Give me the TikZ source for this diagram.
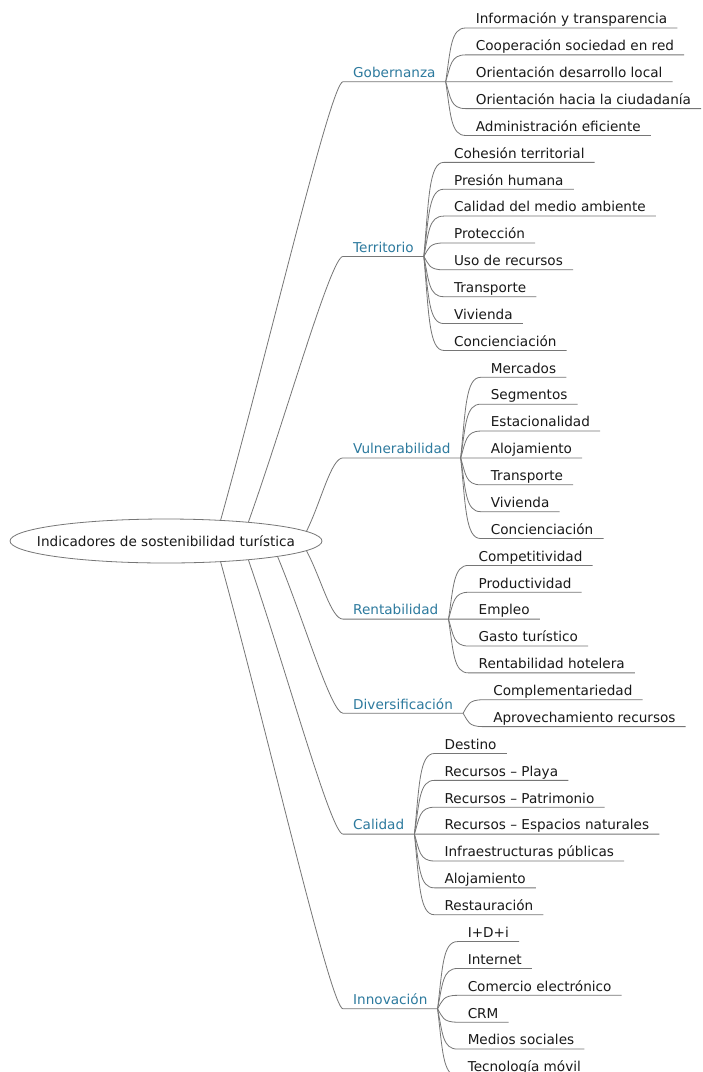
\documentclass[tikz,border=0pt]{standalone}
\usepackage{fontspec}
\setmainfont{DejaVu Sans}
\usetikzlibrary{calc,shapes.geometric}
\definecolor{brblue}{RGB}{45,122,158}
\definecolor{lncol}{RGB}{118,118,118}
\definecolor{txcol}{RGB}{25,25,25}
\newcommand\leafconn[2]{\draw[conn] (#1) .. controls ($(#1)!0.6!(#1|-#2.south west)+(5,0)$) and ($(#1|-#2.south west)+(5,0)$) .. (#2.south west) -- (#2.south east);}
\newcommand\mainconn[2]{\draw[conn] (#1) .. controls ($(#1)!0.4!(#2.south west)$) and ($(#2.south west)+(-12,0)$) .. (#2.south west) -- (#2.south east);}
\newcommand\branchleaves[3]{%
  \coordinate (#1x) at ($(#1.south east)+(20,0)$);
  \foreach \t [count=\k from #2] in {#3} {%
    \pgfmathsetmacro\yy{28+26.87*\k}
    \node[leaf] (l\k) at (#1x |- 0,\yy) {\t};
    \leafconn{#1.south east}{l\k}
  }%
}
\begin{document}
\begin{tikzpicture}[x=1pt,y=-1pt,
  conn/.style={draw=lncol, line width=0.8pt},
  branchlbl/.style={anchor=south west, font=\fontsize{13.6}{16}\selectfont, text=brblue, text height=10pt, text depth=0pt, inner xsep=10pt, inner ysep=4pt},
  leaf/.style={anchor=south west, font=\fontsize{13.6}{16}\selectfont, text=txcol, text height=10pt, text depth=0pt, inner xsep=10pt, inner ysep=4pt},
  rootnode/.style={ellipse, draw=lncol, fill=white, line width=0.8pt, minimum width=312pt, minimum height=44pt, inner sep=0pt, font=\fontsize{13.6}{16}\selectfont, text=txcol}]
\useasboundingbox (0,0) rectangle (703,1072);
\fill[white] (0,0) rectangle (703,1072);

\node[rootnode] (root) at (166,541) {\makebox[0pt]{Indicadores de sostenibilidad turística}};

\node[branchlbl] (gob) at (343,81.7) {Gobernanza};
\node[branchlbl] (ter) at (343,256.4) {Territorio};
\node[branchlbl] (vul) at (343,457.9) {Vulnerabilidad};
\node[branchlbl] (ren) at (343,619.1) {Rentabilidad};
\node[branchlbl] (div) at (343,713.2) {Diversificación};
\node[branchlbl] (cal) at (343,834.1) {Calidad};
\node[branchlbl] (inn) at (343,1008.8) {Innovación};

\mainconn{root.21}{gob}
\mainconn{root.13}{ter}
\mainconn{root.4}{vul}
\mainconn{root.-4}{ren}
\mainconn{root.-8}{div}
\mainconn{root.-13}{cal}
\mainconn{root.-21}{inn}

\branchleaves{gob}{0}{Información y transparencia, Cooperación sociedad en red, Orientación desarrollo local, Orientación hacia la ciudadanía, Administración eficiente}
\branchleaves{ter}{5}{Cohesión territorial, Presión humana, Calidad del medio ambiente, Protección, Uso de recursos, Transporte, Vivienda, Concienciación}
\branchleaves{vul}{13}{Mercados, Segmentos, Estacionalidad, Alojamiento, Transporte, Vivienda, Concienciación}
\branchleaves{ren}{20}{Competitividad, Productividad, Empleo, Gasto turístico, Rentabilidad hotelera}
\branchleaves{div}{25}{Complementariedad, Aprovechamiento recursos}
\branchleaves{cal}{27}{Destino, Recursos – Playa, Recursos – Patrimonio, Recursos – Espacios naturales, Infraestructuras públicas, Alojamiento, Restauración}
\branchleaves{inn}{34}{I+D+i, Internet, Comercio electrónico, CRM, Medios sociales, Tecnología móvil}
\end{tikzpicture}
\end{document}
